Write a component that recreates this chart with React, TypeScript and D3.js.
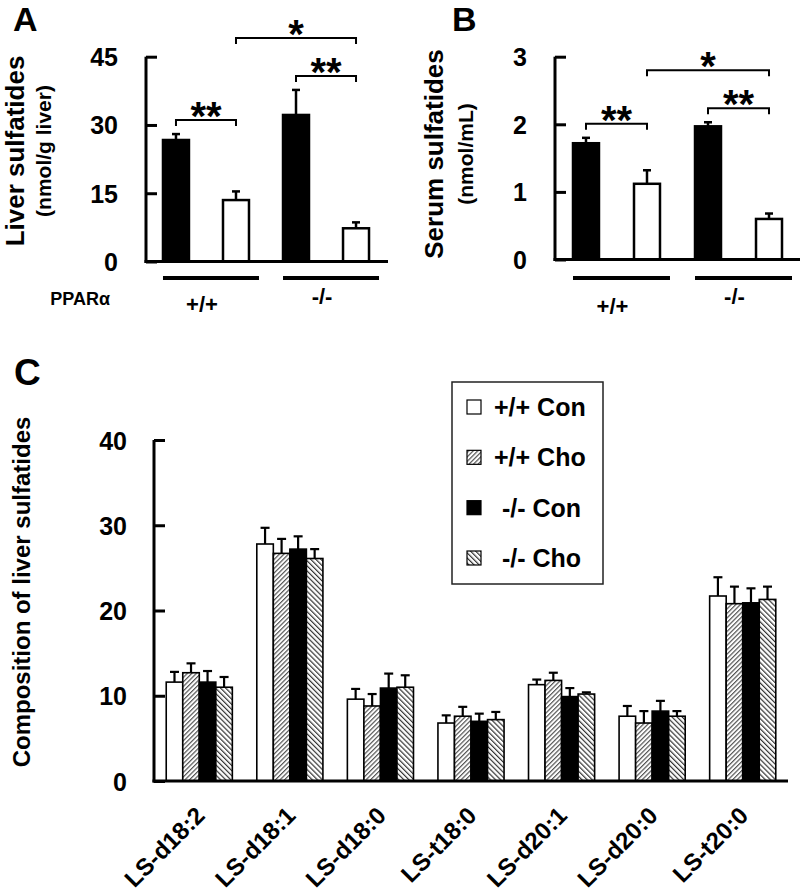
import { useEffect, useRef } from 'react'
import * as d3 from 'd3'

// ---- panels A / B : two genotypes, two bars each (black, white) ----
const genotypes = ['+/+', '-/-']
const abBars = ['+/+ black', '+/+ white', '-/- black', '-/- white']
const abGenotypeOf = ['+/+', '+/+', '-/-', '-/-']
const liverMeans = [26.7, 13.5, 32.2, 7.3]
const liverErrors = [1.3, 1.9, 5.5, 1.3]
const liverTicks = [0, 15, 30, 45]
const serumMeans = [1.72, 1.12, 1.97, 0.6]
const serumErrors = [0.08, 0.2, 0.06, 0.08]
const serumTicks = [0, 1, 2, 3]
const sigPairs = [
  { from: 0, to: 1, label: '**', level: 0 },
  { from: 2, to: 3, label: '**', level: 0 },
  { from: 1, to: 3, label: '*', level: 1 },
]

// ---- panel C : sulfatide species composition ----
const species = ['LS-d18:2', 'LS-d18:1', 'LS-d18:0', 'LS-t18:0', 'LS-d20:1', 'LS-d20:0', 'LS-t20:0']
const seriesNames = ['+/+ Con', '+/+ Cho', '-/- Con', '-/- Cho']
const wtConMeans = [11.6, 27.8, 9.6, 6.8, 11.3, 7.6, 21.7]
const wtChoMeans = [12.7, 26.7, 8.8, 7.6, 11.8, 6.8, 20.8]
const koConMeans = [11.6, 27.2, 10.9, 7.0, 9.9, 8.2, 20.9]
const koChoMeans = [11.0, 26.1, 11.0, 7.2, 10.2, 7.6, 21.3]
const wtConErrors = [1.2, 1.9, 1.2, 0.9, 0.6, 1.2, 2.2]
const wtChoErrors = [1.1, 1.7, 1.4, 1.1, 0.9, 1.4, 2.0]
const koConErrors = [1.3, 1.5, 1.7, 0.9, 1.0, 1.2, 1.7]
const koChoErrors = [1.2, 1.1, 1.4, 0.9, 0.2, 0.6, 1.5]
const compositionTicks = [0, 10, 20, 30, 40]

const FONT = '"Liberation Sans", Arial, Helvetica, sans-serif'
const seriesFill: Record<string, string> = {
  '+/+ Con': '#ffffff',
  '+/+ Cho': 'url(#hatchFwd)',
  '-/- Con': '#000000',
  '-/- Cho': 'url(#hatchBack)',
}

type PanelOpts = {
  letter: string
  letterX: number
  axisX: number
  axisEnd: number
  bandRange: [number, number]
  padInner: number
  padOuter: number
  y0: number
  yTop: number
  ticks: number[]
  means: number[]
  errors: number[]
  title: string
  titleX: number
  sub: string
  subX: number
  titleY: number
  genoLabelY: Record<string, number>
}

function drawSmallPanel(svg: d3.Selection<SVGSVGElement, unknown, null, undefined>, o: PanelOpts) {
  const g = svg.append('g')
  const x = d3.scaleBand<string>().domain(abBars).range(o.bandRange)
    .paddingInner(o.padInner).paddingOuter(o.padOuter)
  const y = d3.scaleLinear().domain([0, d3.max(o.ticks) as number]).range([o.y0, o.yTop])

  // panel letter
  g.append('text').attr('x', o.letterX).attr('y', 31)
    .attr('font-family', FONT).attr('font-weight', 700).attr('font-size', 34)
    .text(o.letter)

  // titles
  g.append('text').attr('transform', `translate(${o.titleX},${o.titleY}) rotate(-90)`)
    .attr('text-anchor', 'middle').attr('font-family', FONT).attr('font-weight', 700)
    .attr('font-size', 26).text(o.title)
  g.append('text').attr('transform', `translate(${o.subX},${o.titleY}) rotate(-90)`)
    .attr('text-anchor', 'middle').attr('font-family', FONT).attr('font-weight', 700)
    .attr('font-size', 21).text(o.sub)

  // bars
  abBars.forEach((k, i) => {
    const bx = x(k) as number
    const bw = x.bandwidth()
    const top = y(o.means[i])
    const errTop = y(o.means[i] + o.errors[i])
    const cx = bx + bw / 2
    g.append('line').attr('x1', cx).attr('x2', cx).attr('y1', top).attr('y2', errTop)
      .attr('stroke', '#000').attr('stroke-width', 2.5)
    g.append('line').attr('x1', cx - 4).attr('x2', cx + 4).attr('y1', errTop).attr('y2', errTop)
      .attr('stroke', '#000').attr('stroke-width', 2.5)
    g.append('rect').attr('x', bx).attr('y', top).attr('width', bw).attr('height', o.y0 - top)
      .attr('fill', i % 2 === 0 ? '#000' : '#fff').attr('stroke', '#000').attr('stroke-width', 2.5)
  })

  // y axis with inward ticks
  const axis = d3.axisLeft(y).tickValues(o.ticks).tickFormat(d3.format('d'))
    .tickSizeInner(-11).tickSizeOuter(0).tickPadding(28)
  const ax = g.append('g').attr('transform', `translate(${o.axisX},0)`).call(axis)
  ax.select('.domain').remove()
  ax.selectAll('line').attr('stroke', '#000').attr('stroke-width', 3)
  ax.selectAll('text').attr('font-family', FONT).attr('font-weight', 700)
    .attr('font-size', 25).attr('fill', '#000').attr('dy', '0.36em')
  g.append('line').attr('x1', o.axisX).attr('x2', o.axisX).attr('y1', o.yTop).attr('y2', o.y0 + 1.5)
    .attr('stroke', '#000').attr('stroke-width', 3)
  g.append('line').attr('x1', o.axisX - 1.5).attr('x2', o.axisEnd).attr('y1', o.y0).attr('y2', o.y0)
    .attr('stroke', '#000').attr('stroke-width', 3)

  // significance brackets
  const bracketY: number[] = []
  sigPairs.forEach((p, i) => {
    const cx1 = (x(abBars[p.from]) as number) + x.bandwidth() / 2
    const cx2 = (x(abBars[p.to]) as number) + x.bandwidth() / 2
    let by: number
    if (p.level === 0) {
      const hi = d3.max(d3.range(p.from, p.to + 1), j => o.means[j] + o.errors[j]) as number
      by = y(hi) - 14
    } else {
      by = (d3.min(bracketY.filter(v => v !== undefined)) as number) - 38
    }
    bracketY[i] = by
    g.append('path').attr('d', `M${cx1},${by + 6}V${by}H${cx2}V${by + 6}`)
      .attr('fill', 'none').attr('stroke', '#000').attr('stroke-width', 2)
    g.append('text').attr('x', (cx1 + cx2) / 2).attr('y', by + 10).attr('text-anchor', 'middle')
      .attr('font-family', FONT).attr('font-weight', 700).attr('font-size', 40).text(p.label)
  })

  // genotype underlines and labels
  genotypes.forEach(gt => {
    const members = abBars.filter((_, i) => abGenotypeOf[i] === gt)
    const x1 = x(members[0]) as number
    const x2 = (x(members[members.length - 1]) as number) + x.bandwidth() + 10
    g.append('line').attr('x1', x1).attr('x2', x2).attr('y1', 278).attr('y2', 278)
      .attr('stroke', '#000').attr('stroke-width', 4)
    g.append('text').attr('x', (x1 + x2) / 2 - 9).attr('y', o.genoLabelY[gt]).attr('text-anchor', 'middle')
      .attr('font-family', FONT).attr('font-weight', 700).attr('font-size', 22).text(gt)
  })
}

function drawComposition(svg: d3.Selection<SVGSVGElement, unknown, null, undefined>) {
  const g = svg.append('g')
  const axisX = 154
  const y0 = 781
  const x = d3.scaleBand<string>().domain(species).range([axisX, 788]).paddingInner(0.27).paddingOuter(0.135)
  const xs = d3.scaleBand<string>().domain(seriesNames).range([0, x.bandwidth()])
  const y = d3.scaleLinear().domain([0, 40]).range([y0, 440])
  const meansBySeries = [wtConMeans, wtChoMeans, koConMeans, koChoMeans]
  const errBySeries = [wtConErrors, wtChoErrors, koConErrors, koChoErrors]

  g.append('text').attr('x', 14).attr('y', 385).attr('font-family', FONT).attr('font-weight', 700)
    .attr('font-size', 37).text('C')
  g.append('text').attr('transform', `translate(30,592) rotate(-90)`).attr('text-anchor', 'middle')
    .attr('font-family', FONT).attr('font-weight', 700).attr('font-size', 24)
    .text('Composition of liver sulfatides')

  species.forEach((sp, i) => {
    seriesNames.forEach((s, k) => {
      const bx = (x(sp) as number) + (xs(s) as number)
      const bw = xs.bandwidth()
      const top = y(meansBySeries[k][i])
      const errTop = y(meansBySeries[k][i] + errBySeries[k][i])
      const cx = bx + bw / 2
      g.append('line').attr('x1', cx).attr('x2', cx).attr('y1', top).attr('y2', errTop)
        .attr('stroke', '#000').attr('stroke-width', 2.2)
      g.append('line').attr('x1', cx - 4.5).attr('x2', cx + 4.5).attr('y1', errTop).attr('y2', errTop)
        .attr('stroke', '#000').attr('stroke-width', 2.2)
      g.append('rect').attr('x', bx).attr('y', top).attr('width', bw).attr('height', y0 - top)
        .attr('fill', seriesFill[s]).attr('stroke', '#000').attr('stroke-width', 1.6)
    })
    // rotated category label, anchored at its end
    const lx = (x(sp) as number) + x.bandwidth() / 2 + 7
    const ly = 817
    g.append('text')
      .attr('x', lx).attr('y', ly)
      .attr('transform', `rotate(-45 ${lx} ${ly})`)
      .attr('text-anchor', 'end').attr('font-family', FONT).attr('font-weight', 700)
      .attr('font-size', 24).text(sp)
  })

  const axis = d3.axisLeft(y).tickValues(compositionTicks).tickFormat(d3.format('d'))
    .tickSizeInner(-11).tickSizeOuter(0).tickPadding(27)
  const ax = g.append('g').attr('transform', `translate(${axisX},0)`).call(axis)
  ax.select('.domain').remove()
  ax.selectAll('line').attr('stroke', '#000').attr('stroke-width', 3)
  ax.selectAll('text').attr('font-family', FONT).attr('font-weight', 700)
    .attr('font-size', 25).attr('fill', '#000').attr('dy', '0.36em')
  g.append('line').attr('x1', axisX).attr('x2', axisX).attr('y1', 440).attr('y2', y0 + 1.5)
    .attr('stroke', '#000').attr('stroke-width', 3)
  g.append('line').attr('x1', axisX - 1.5).attr('x2', 788).attr('y1', y0).attr('y2', y0)
    .attr('stroke', '#000').attr('stroke-width', 3)

  // legend
  const lg = g.append('g')
  lg.append('rect').attr('x', 452).attr('y', 382).attr('width', 151).attr('height', 202)
    .attr('fill', '#fff').attr('stroke', '#222').attr('stroke-width', 1.5)
  const rowY = d3.scalePoint<string>().domain(seriesNames).range([407, 558])
  seriesNames.forEach(s => {
    const cy = rowY(s) as number
    lg.append('rect').attr('x', 467).attr('y', cy - 7).attr('width', 14).attr('height', 14)
      .attr('fill', seriesFill[s]).attr('stroke', '#000').attr('stroke-width', 1.2)
    lg.append('text').attr('x', s.startsWith('+') ? 494 : 502).attr('y', cy + 9)
      .attr('font-family', FONT).attr('font-weight', 700).attr('font-size', 25).text(s)
  })
}

export default function App() {
  const ref = useRef<SVGSVGElement>(null)

  useEffect(() => {
    if (!ref.current) return
    const svg = d3.select(ref.current)
    svg.selectAll('*').remove()

    const defs = svg.append('defs')
    const hatch = (id: string, angle: number, gap: number, color: string) => {
      const p = defs.append('pattern').attr('id', id).attr('patternUnits', 'userSpaceOnUse')
        .attr('width', gap).attr('height', 10).attr('patternTransform', `rotate(${angle})`)
      p.append('rect').attr('width', gap).attr('height', 10).attr('fill', '#fff')
      p.append('line').attr('x1', 0.6).attr('x2', 0.6).attr('y1', 0).attr('y2', 10)
        .attr('stroke', color).attr('stroke-width', 1.2)
    }
    hatch('hatchFwd', 45, 3.2, '#555')
    hatch('hatchBack', -45, 3.6, '#333')

    drawSmallPanel(svg, {
      letter: 'A', letterX: 13, axisX: 146, axisEnd: 388, bandRange: [146, 386],
      padInner: 0.567, padOuter: 0.283, y0: 261.5, yTop: 56.7, ticks: liverTicks,
      means: liverMeans, errors: liverErrors,
      title: 'Liver sulfatides', titleX: 24, sub: '(nmol/g liver)', subX: 51, titleY: 151,
      genoLabelY: { '+/+': 312, '-/-': 304 },
    })
    drawSmallPanel(svg, {
      letter: 'B', letterX: 452, axisX: 555, axisEnd: 800, bandRange: [555, 800],
      padInner: 0.574, padOuter: 0.295, y0: 259.5, yTop: 56.7, ticks: serumTicks,
      means: serumMeans, errors: serumErrors,
      title: 'Serum sulfatides', titleX: 443, sub: '(nmol/mL)', subX: 473, titleY: 154,
      genoLabelY: { '+/+': 314, '-/-': 304 },
    })

    // PPARα row label
    svg.append('text').attr('x', 110).attr('y', 305).attr('text-anchor', 'end')
      .attr('font-family', FONT).attr('font-weight', 700).attr('font-size', 18).text('PPARα')

    drawComposition(svg)
  }, [])

  return (
    <svg
      ref={ref}
      width={800}
      height={893}
      style={{ position: 'absolute', left: 0, top: 0, background: '#fff' }}
    />
  )
}
